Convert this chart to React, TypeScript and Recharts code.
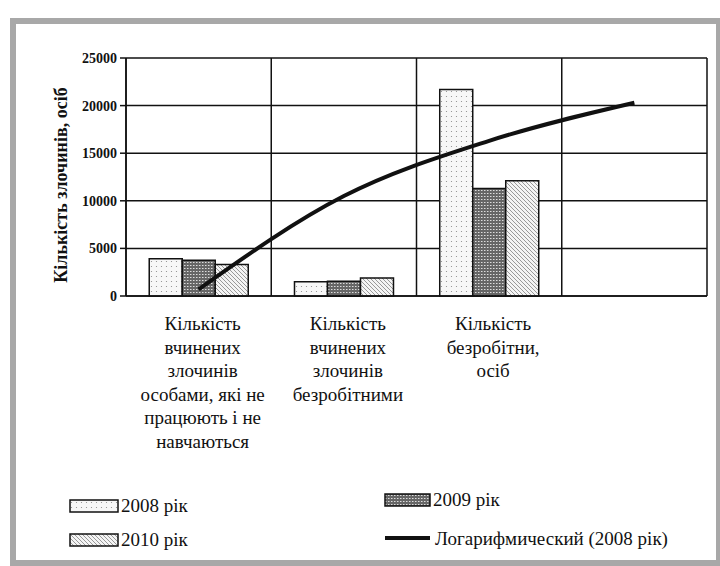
import React from 'react';
import {
  ComposedChart,
  Bar,
  Line,
  XAxis,
  YAxis,
  CartesianGrid,
  Legend,
} from 'recharts';

const categories = [
  ['Кількість', 'вчинених', 'злочинів', 'особами, які не', 'працюють і не', 'навчаються'],
  ['Кількість', 'вчинених', 'злочинів', 'безробітними'],
  ['Кількість', 'безробітни,', 'осіб'],
  [],
];
const values2008 = [3900, 1500, 21700, null];
const values2009 = [3750, 1550, 11300, null];
const values2010 = [3300, 1900, 12100, null];
// логарифмічний тренд по 2008 р., як він видно на рисунку
const trend2008 = [700, 10500, 16300, 20300];
const yTicks = [0, 5000, 10000, 15000, 20000, 25000];

const data = categories.map((lines, i) => ({
  name: lines.join(' ') || `c${i}`,
  lines,
  y2008: values2008[i],
  y2009: values2009[i],
  y2010: values2010[i],
  trend: trend2008[i],
}));

const FONT = 'Liberation Serif, DejaVu Serif, serif';

const CategoryTick = (props: any) => {
  const { x, y, index } = props;
  const lines: string[] = data[index]?.lines ?? [];
  return (
    <text x={x + 4} y={y} textAnchor="middle" style={{ fontFamily: FONT }} fontSize={19} fill="#111">
      {lines.map((l, i) => (
        <tspan key={i} x={x + 4} dy={i === 0 ? 26 : 23.5}>
          {l}
        </tspan>
      ))}
    </text>
  );
};

const LegendBox = () => (
  <svg width={720} height={80} style={{ display: 'block', fontFamily: FONT }}>
    <rect x={70} y={24} width={48} height={12} fill="url(#p2008)" stroke="#111" strokeWidth={1.5} />
    <text x={121} y={36} fontSize={19} fill="#111">2008 рік</text>
    <rect x={385} y={18} width={45} height={12} fill="url(#p2009)" stroke="#111" strokeWidth={1.5} />
    <text x={433} y={30} fontSize={19} fill="#111">2009 рік</text>
    <rect x={70} y={58} width={48} height={12} fill="url(#p2010)" stroke="#111" strokeWidth={1.5} />
    <text x={121} y={70} fontSize={19} fill="#111">2010 рік</text>
    <line x1={385} y1={62} x2={430} y2={62} stroke="#111" strokeWidth={4} />
    <text x={435} y={69} fontSize={19} fill="#111">Логарифмический (2008 рік)</text>
  </svg>
);

export default function App() {
  return (
    <div style={{ position: 'absolute', left: 0, top: 0, width: 720, height: 566, background: '#fff', fontFamily: FONT }}>
      <div
        style={{
          position: 'absolute',
          left: 10,
          top: 18,
          width: 700,
          height: 536,
          border: '6px solid #a8a8a8',
        }}
      />
      <ComposedChart
        width={720}
        height={566}
        data={data}
        margin={{ top: 58, right: 13, bottom: 10, left: 40 }}
        barCategoryGap="16%"
        barGap={0}
        style={{ position: 'absolute', left: 0, top: 0, fontFamily: FONT }}
      >
        <defs>
          <pattern id="p2008" width={5} height={5} patternUnits="userSpaceOnUse">
            <rect width={5} height={5} fill="#f7f7f7" />
            <circle cx={1.5} cy={1.5} r={0.6} fill="#888" />
          </pattern>
          <pattern id="p2009" width={3} height={3} patternUnits="userSpaceOnUse">
            <rect width={3} height={3} fill="#666" />
            <rect x={1} y={1} width={1.5} height={1} fill="#ddd" />
          </pattern>
          <pattern id="p2010" width={4} height={4} patternUnits="userSpaceOnUse">
            <rect width={4} height={4} fill="#f4f4f4" />
            <path d="M-1,-1 L5,5 M-1,3 L1,5 M3,-1 L5,1" stroke="#999" strokeWidth={1} />
          </pattern>
        </defs>
        <CartesianGrid
          stroke="#111"
          strokeWidth={1.5}
          verticalCoordinatesGenerator={({ offset }: any) =>
            [0, 1, 2, 3, 4].map((i) => offset.left + (i * offset.width) / 4)
          }
        />
        <XAxis
          dataKey="name"
          interval={0}
          height={180}
          axisLine={{ stroke: '#111', strokeWidth: 1.5 }}
          tickLine={false}
          tick={<CategoryTick />}
        />
        <YAxis
          domain={[0, 25000]}
          ticks={yTicks}
          width={86}
          axisLine={{ stroke: '#111', strokeWidth: 1.5 }}
          tickLine={{ stroke: '#111', strokeWidth: 1.5 }}
          tickSize={6}
          tickMargin={3}
          tick={{ fontFamily: FONT, fontSize: 14, fontWeight: 'bold', fill: '#111' }}
          label={{
            value: 'Кількість злочинів, осіб',
            angle: -90,
            position: 'insideLeft',
            dx: 16,
            dy: 8,
            style: { fontFamily: FONT, fontSize: 18, fontWeight: 'bold', fill: '#111', textAnchor: 'middle' },
          }}
        />
        <Bar dataKey="y2008" name="2008 рік" fill="url(#p2008)" stroke="#111" strokeWidth={1.5} isAnimationActive={false} />
        <Bar dataKey="y2009" name="2009 рік" fill="url(#p2009)" stroke="#111" strokeWidth={1.5} isAnimationActive={false} />
        <Bar dataKey="y2010" name="2010 рік" fill="url(#p2010)" stroke="#111" strokeWidth={1.5} isAnimationActive={false} />
        <Line
          dataKey="trend"
          name="Логарифмический (2008 рік)"
          type="monotone"
          stroke="#111"
          strokeWidth={4}
          dot={false}
          isAnimationActive={false}
        />
        <Legend
          verticalAlign="bottom"
          height={80}
          wrapperStyle={{ left: 0, width: 720 }}
          content={() => <LegendBox />}
        />
      </ComposedChart>
    </div>
  );
}
